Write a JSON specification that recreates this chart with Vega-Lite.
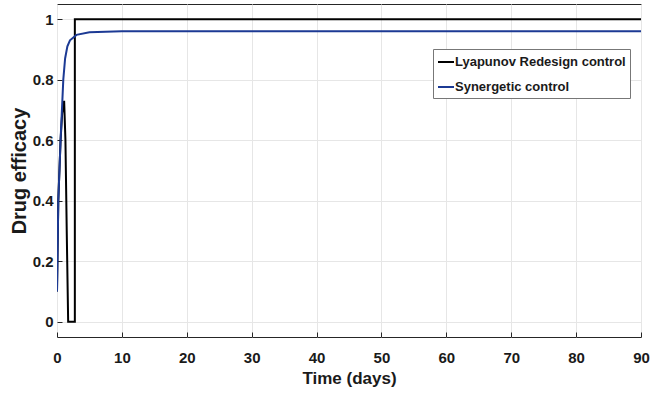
{
  "$schema": "https://vega.github.io/schema/vega-lite/v6.json",
  "width": 584,
  "height": 333,
  "autosize": {"type": "none"},
  "padding": {"left": 57, "top": 4, "right": 19, "bottom": 64},
  "background": "white",
  "config": {
    "view": {"stroke": "#262626", "strokeWidth": 1},
    "font": "Liberation Sans"
  },
  "data": {
    "values": [
      {"series": "Lyapunov Redesign control", "i": 0, "t": 0, "y": 0.1},
      {"series": "Lyapunov Redesign control", "i": 1, "t": 0.2, "y": 0.4},
      {"series": "Lyapunov Redesign control", "i": 2, "t": 0.55, "y": 0.6},
      {"series": "Lyapunov Redesign control", "i": 3, "t": 0.8, "y": 0.69},
      {"series": "Lyapunov Redesign control", "i": 4, "t": 1.1, "y": 0.73},
      {"series": "Lyapunov Redesign control", "i": 5, "t": 1.3, "y": 0.6},
      {"series": "Lyapunov Redesign control", "i": 6, "t": 1.5, "y": 0.3},
      {"series": "Lyapunov Redesign control", "i": 7, "t": 1.72, "y": 0.0},
      {"series": "Lyapunov Redesign control", "i": 8, "t": 2.75, "y": 0.0},
      {"series": "Lyapunov Redesign control", "i": 9, "t": 2.75, "y": 1.0},
      {"series": "Lyapunov Redesign control", "i": 10, "t": 90, "y": 1.0},
      {"series": "Synergetic control", "i": 0, "t": 0, "y": 0.1},
      {"series": "Synergetic control", "i": 1, "t": 0.2, "y": 0.4},
      {"series": "Synergetic control", "i": 2, "t": 0.55, "y": 0.6},
      {"series": "Synergetic control", "i": 3, "t": 0.97, "y": 0.8},
      {"series": "Synergetic control", "i": 4, "t": 1.25, "y": 0.87},
      {"series": "Synergetic control", "i": 5, "t": 1.6, "y": 0.91},
      {"series": "Synergetic control", "i": 6, "t": 2.0, "y": 0.93},
      {"series": "Synergetic control", "i": 7, "t": 3.0, "y": 0.948},
      {"series": "Synergetic control", "i": 8, "t": 5.0, "y": 0.957},
      {"series": "Synergetic control", "i": 9, "t": 10.0, "y": 0.96},
      {"series": "Synergetic control", "i": 10, "t": 90, "y": 0.96}
    ]
  },
  "mark": {"type": "line", "strokeWidth": 2, "clip": true},
  "encoding": {
    "x": {
      "field": "t", "type": "quantitative",
      "scale": {"domain": [0, 90], "nice": false, "zero": false},
      "axis": {
        "title": "Time (days)", "values": [0,10,20,30,40,50,60,70,80,90], "format": "d",
        "grid": true, "gridColor": "#e6e6e6", "domain": false, "labelFlush": false,
        "tickSize": -5, "tickColor": "#262626", "labelPadding": 18,
        "labelFont": "Liberation Sans", "labelFontSize": 15, "labelFontWeight": "bold", "labelColor": "#1a1a1a",
        "titleFont": "Liberation Sans", "titleFontSize": 17, "titleFontWeight": "bold", "titleColor": "#1a1a1a", "titlePadding": 5
      }
    },
    "y": {
      "field": "y", "type": "quantitative",
      "scale": {"domain": [-0.05, 1.05], "nice": false, "zero": false},
      "axis": {
        "title": "Drug efficacy", "values": [0,0.2,0.4,0.6,0.8,1], "format": "~g",
        "grid": true, "gridColor": "#e6e6e6", "domain": false, "labelFlush": false,
        "tickSize": -5, "tickColor": "#262626", "labelPadding": 9,
        "labelFont": "Liberation Sans", "labelFontSize": 15, "labelFontWeight": "bold", "labelColor": "#1a1a1a",
        "titleFont": "Liberation Sans", "titleFontSize": 20, "titleFontWeight": "bold", "titleColor": "#1a1a1a", "titlePadding": 3
      }
    },
    "color": {
      "field": "series", "type": "nominal",
      "scale": {"domain": ["Lyapunov Redesign control", "Synergetic control"], "range": ["#000000", "#1c3a94"]},
      "legend": {
        "title": null, "orient": "none", "legendX": 376, "legendY": 45,
        "symbolType": "stroke", "symbolSize": 256, "symbolStrokeWidth": 2,
        "labelFont": "Liberation Sans", "labelFontSize": 13, "labelFontWeight": "bold", "labelColor": "#1a1a1a", "labelLimit": 400,
        "strokeColor": "#777777", "fillColor": "white", "padding": 4, "rowPadding": 9, "labelOffset": 0
      }
    },
    "detail": {"field": "series"},
    "order": {"field": "i", "type": "quantitative"}
  }
}
